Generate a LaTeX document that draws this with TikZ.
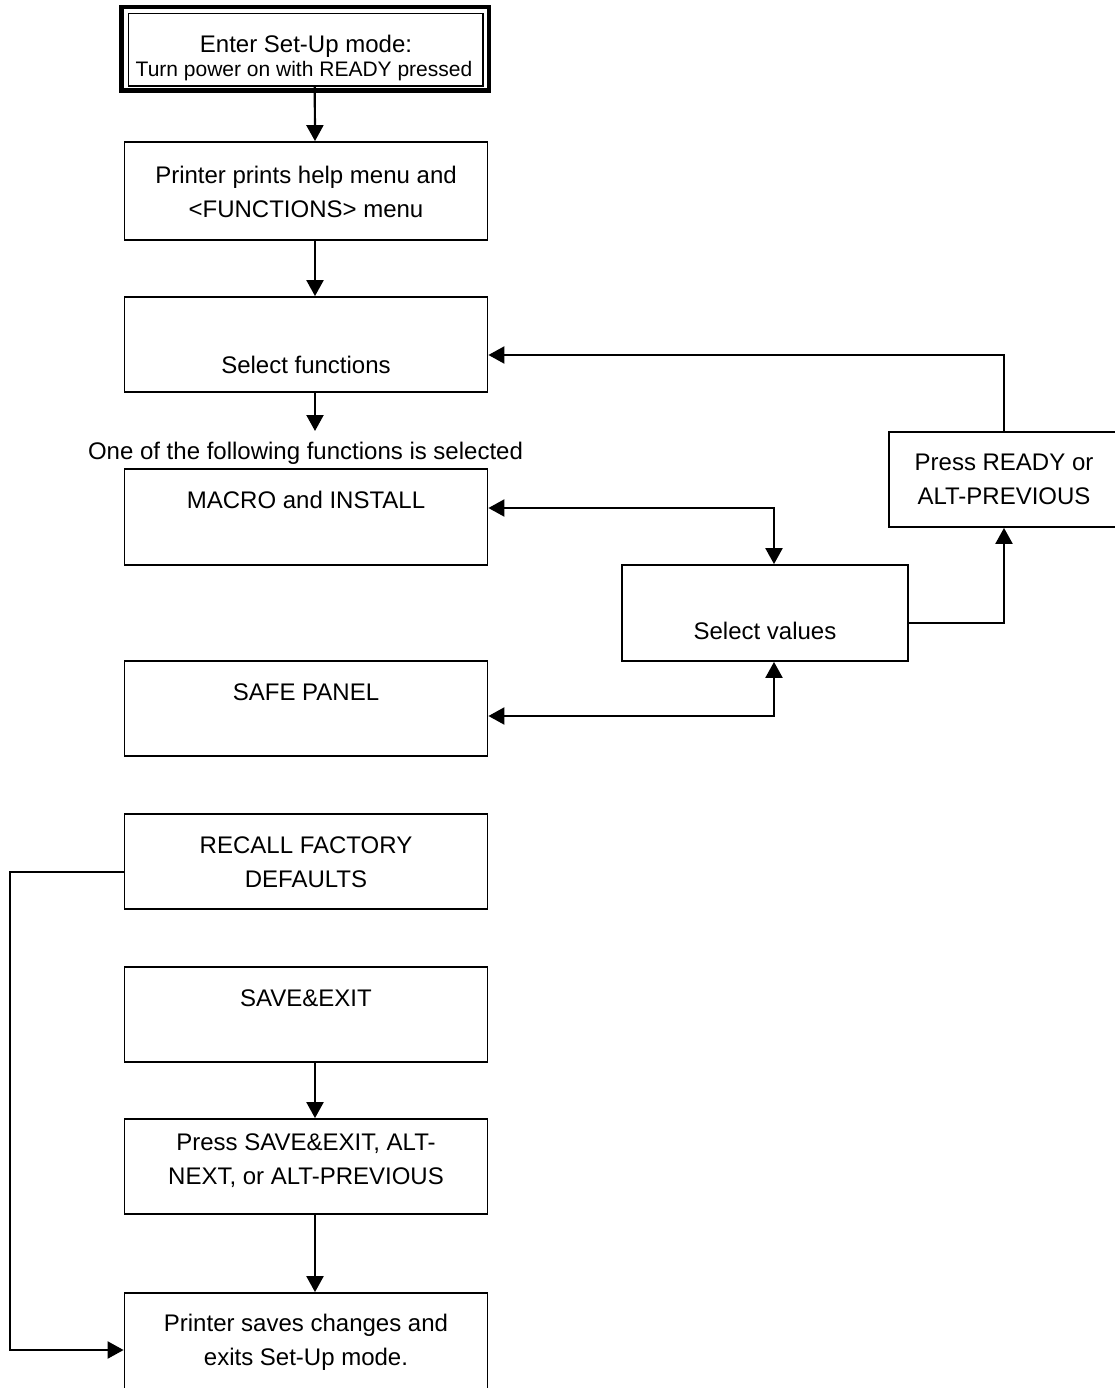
\documentclass[tikz,border=0pt]{standalone}
\usepackage{fontspec}
\setmainfont{Liberation Sans}
\usetikzlibrary{arrows.meta}
\begin{document}
\begin{tikzpicture}[x=1pt,y=-1pt,
  box/.style={draw, line width=1.8pt, minimum width=363pt, minimum height=95pt, inner sep=0pt},
  arr/.style={line width=2.2pt, -{Triangle[length=16pt,width=17pt]}},
  arrb/.style={line width=2.2pt, {Triangle[length=16pt,width=17pt]}-{Triangle[length=16pt,width=17pt]}},
  lbl/.style={anchor=base, inner sep=0pt, font=\fontsize{24}{28}\selectfont}]
\useasboundingbox (0,0) rectangle (1114,1388);

% top box with double border
\node[draw, line width=1.7pt, minimum width=354.5pt, minimum height=72.5pt, inner sep=0pt] (n0) at (305.75,49.75) {};
\draw[line width=4.5pt] ([xshift=-6pt,yshift=5.5pt]n0.north west) rectangle ([xshift=5pt,yshift=-3.7pt]n0.south east);
\node[lbl] (t0a) at (306,53) {Enter Set-Up mode:};
\node[lbl, font=\fontsize{21}{25}\selectfont] (t0b) at (304,77) {Turn power on with READY pressed};

% boxes
\node[box, minimum height=98pt] (b2) at (306,191) {};
\node[lbl] (t2a) at (306,184) {Printer prints help menu and};
\node[lbl] (t2b) at (306,218) {<FUNCTIONS> menu};

\node[box] (b3) at (306,344.5) {};
\node[lbl] (t3) at (306,373) {Select functions};

\coordinate (c1) at (315,431);
\node[lbl] (t4) at (305.5,459) {One of the following functions is selected};

\node[box, minimum height=96pt] (m) at (306,517) {};
\node[lbl] (tm) at (306,508) {MACRO and INSTALL};

\node[box, minimum width=286pt, minimum height=96pt] (sv) at (765,613) {};
\node[lbl] (tsv) at (765,639) {Select values};

\node[box, minimum width=230pt] (pr) at (1004,479.5) {};
\node[lbl] (tpra) at (1004,470) {Press READY or};
\node[lbl] (tprb) at (1004,504) {ALT-PREVIOUS};

\node[box] (s) at (306,708.5) {};
\node[lbl] (ts) at (306,700) {SAFE PANEL};

\node[box] (r) at (306,861.5) {};
\node[lbl] (tra) at (306,853) {RECALL FACTORY};
\node[lbl] (trb) at (306,887) {DEFAULTS};

\node[box] (se) at (306,1014.5) {};
\node[lbl] (tse) at (306,1006) {SAVE\&EXIT};

\node[box] (pse) at (306,1166.5) {};
\node[lbl] (tpsa) at (306,1150) {Press SAVE\&EXIT, ALT-};
\node[lbl] (tpsb) at (306,1184) {NEXT, or ALT-PREVIOUS};

\node[box, minimum height=97pt] (f) at (306,1341.5) {};
\node[lbl] (tfa) at (306,1331) {Printer saves changes and};
\node[lbl] (tfb) at (306,1365) {exits Set-Up mode.};

% connectors
\draw[arr] ([xshift=9pt]n0.south) -- ([xshift=9pt]b2.north);
\draw[arr] ([xshift=9pt]b2.south) -- ([xshift=9pt]b3.north);
\draw[arr] ([xshift=9pt]b3.south) -- (c1);
\draw[arr] (pr.north) |- ([yshift=-10.5pt]b3.east);
\draw[arr] ([yshift=-10pt]sv.east) -| (pr.south);
\draw[arrb] ([yshift=9pt]m.east) -| ([xshift=9pt]sv.north);
\draw[arrb] ([yshift=-7.5pt]s.east) -| ([xshift=9pt]sv.south);
\draw[arr] ([xshift=9pt]se.south) -- ([xshift=9pt]pse.north);
\draw[arr] ([xshift=9pt]pse.south) -- ([xshift=9pt]f.north);
\draw[arr] ([yshift=-10.5pt]r.west) -- ++(-114,0) |- ([yshift=-8.5pt]f.west);
\end{tikzpicture}
\end{document}
